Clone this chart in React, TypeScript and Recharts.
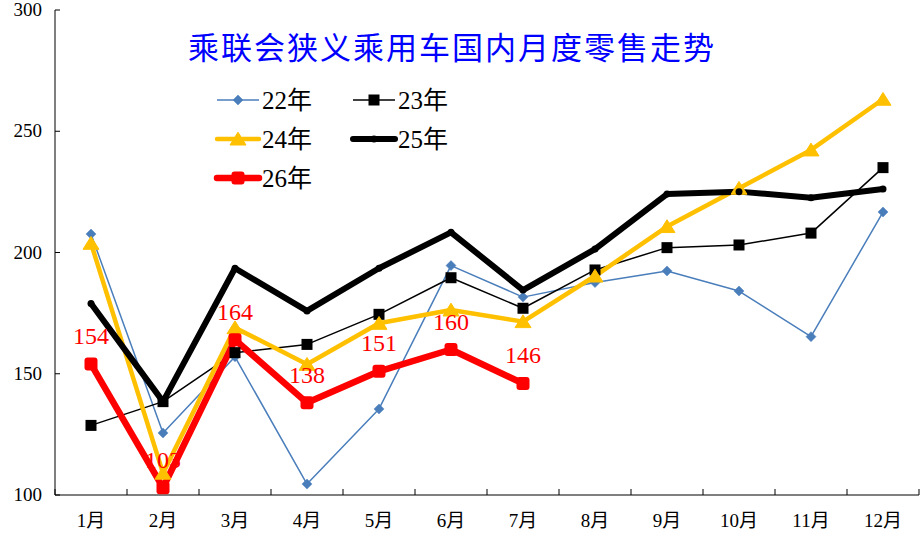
import React from 'react';
import { LineChart, Line, XAxis, YAxis, Legend, LabelList } from 'recharts';

const months = ['1月', '2月', '3月', '4月', '5月', '6月', '7月', '8月', '9月', '10月', '11月', '12月'];
const y22 = [207.6, 125.6, 157, 104.5, 135.5, 194.6, 181.6, 187.6, 192.4, 184.1, 165.3, 216.7];
const y23 = [128.7, 138.5, 158.7, 162.1, 174.5, 189.6, 177, 192.8, 202, 203.1, 208, 235];
const y24 = [203.8, 109, 169, 153.9, 170.8, 176.3, 171.5, 190.3, 210.7, 226.5, 242.3, 263.2];
const y25 = [179, 138.5, 193.5, 175.9, 193.5, 208.3, 184.5, 201.4, 224.1, 225.1, 222.6, 226.2];
const y26 = [154, 103, 164, 138, 151, 160, 146, null, null, null, null, null];
const yTicks = [100, 150, 200, 250, 300];

const TITLE = '乘联会狭义乘用车国内月度零售走势';

const data = months.map((m, i) => ({
  month: m,
  y22: y22[i],
  y23: y23[i],
  y24: y24[i],
  y25: y25[i],
  y26: y26[i],
}));

const BLUE = '#4A7EBB';
const GOLD = '#FFC000';
const RED = '#FF0000';

const W = 922;
const H = 537;
const M = { top: 10, right: 3, bottom: 0, left: 0 };
const Y_W = 55;
const X_H = 42;
const BAND = (W - M.left - M.right - Y_W) / months.length;

const SERIF = '"Liberation Serif", "Noto Sans CJK SC", serif';

type Shape = 'diamond' | 'square' | 'triangle' | 'circle' | 'rsquare';

const Marker = ({ cx, cy, shape, color, size }: { cx: number; cy: number; shape: Shape; color: string; size: number }) => {
  if (cx == null || cy == null || Number.isNaN(cx) || Number.isNaN(cy)) return null;
  const h = size / 2;
  switch (shape) {
    case 'diamond':
      return <path d={`M${cx},${cy - h} L${cx + h},${cy} L${cx},${cy + h} L${cx - h},${cy} Z`} fill={color} stroke={color} strokeWidth={0.5} />;
    case 'square':
      return <rect x={cx - h} y={cy - h} width={size} height={size} fill={color} />;
    case 'triangle':
      return <path d={`M${cx},${cy - h * 0.85} L${cx + h},${cy + h * 0.75} L${cx - h},${cy + h * 0.75} Z`} fill={color} stroke={color} strokeWidth={1} strokeLinejoin="round" />;
    case 'circle':
      return <circle cx={cx} cy={cy} r={h} fill={color} />;
    case 'rsquare':
      return <rect x={cx - h} y={cy - h} width={size} height={size} rx={3} ry={3} fill={color} />;
  }
  return null;
};

const SERIES = [
  { key: 'y22', name: '22年', color: BLUE, width: 1.5, shape: 'diamond' as Shape, size: 10 },
  { key: 'y23', name: '23年', color: '#000000', width: 1.5, shape: 'square' as Shape, size: 11 },
  { key: 'y24', name: '24年', color: GOLD, width: 4.5, shape: 'triangle' as Shape, size: 16 },
  { key: 'y25', name: '25年', color: '#000000', width: 6, shape: 'circle' as Shape, size: 7 },
  { key: 'y26', name: '26年', color: RED, width: 6.5, shape: 'rsquare' as Shape, size: 13 },
];

const XTick = (props: any) => {
  const { x, y, payload, index } = props;
  const last = index === months.length - 1;
  return (
    <g>
      <line x1={x - BAND / 2} y1={y} x2={x - BAND / 2} y2={y - 6} stroke="#000" strokeWidth={1} />
      {last && <line x1={x + BAND / 2} y1={y} x2={x + BAND / 2} y2={y - 6} stroke="#000" strokeWidth={1} />}
      <text x={x} y={y + 32} textAnchor="middle" fontFamily={SERIF} fontSize={19} fill="#000">
        {payload.value}
      </text>
    </g>
  );
};

const YTick = (props: any) => {
  const { x, y, payload } = props;
  return (
    <g>
      <line x1={x} y1={y} x2={x + 5} y2={y} stroke="#000" strokeWidth={1} />
      <text x={x - 13} y={y + 6} textAnchor="end" fontFamily={SERIF} fontSize={19} fill="#000">
        {payload.value}
      </text>
    </g>
  );
};

const LegendBox = () => {
  const rows = [[SERIES[0], SERIES[1]], [SERIES[2], SERIES[3]], [SERIES[4]]];
  return (
    <svg width={260} height={120} style={{ display: 'block', overflow: 'visible' }}>
      {rows.map((row, r) =>
        row.map((s, c) => {
          const x0 = c * 136;
          const yc = 18 + r * 39;
          return (
            <g key={s.key}>
              <line x1={x0} y1={yc} x2={x0 + 42} y2={yc} stroke={s.color} strokeWidth={s.width} strokeLinecap={s.width > 3 ? 'round' : 'butt'} />
              <Marker cx={x0 + 21} cy={yc} shape={s.shape} color={s.color} size={s.size} />
              <text x={x0 + 45} y={yc + 9} fontFamily={SERIF} fontSize={25} fill="#000">
                {s.name}
              </text>
            </g>
          );
        })
      )}
    </svg>
  );
};

const RedLabel = (props: any) => {
  const { x, y, value } = props;
  if (value == null) return null;
  return (
    <text x={x} y={y - 20} textAnchor="middle" fontFamily={SERIF} fontSize={24} fill={RED}>
      {value}
    </text>
  );
};

export default function App() {
  return (
    <div style={{ position: 'absolute', left: 0, top: 0, width: W, height: H, background: '#fff' }}>
      <LineChart width={W} height={H} data={data} margin={M}>
        <XAxis
          dataKey="month"
          height={X_H}
          padding={{ left: BAND / 2, right: BAND / 2 }}
          axisLine={{ stroke: '#000', strokeWidth: 1 }}
          tickLine={false}
          tickSize={0}
          tickMargin={0}
          tick={<XTick />}
          interval={0}
        />
        <YAxis
          width={Y_W}
          domain={[100, 300]}
          ticks={yTicks}
          allowDataOverflow
          axisLine={{ stroke: '#000', strokeWidth: 1 }}
          tickLine={false}
          tickSize={0}
          tickMargin={0}
          tick={<YTick />}
          interval={0}
        />
        <Legend
          layout="vertical"
          align="center"
          verticalAlign="middle"
          wrapperStyle={{ left: 217, top: 82, width: 270 }}
          content={() => <LegendBox />}
        />
        {SERIES.map((s) => (
          <Line
            key={s.key}
            dataKey={s.key}
            name={s.name}
            stroke={s.color}
            strokeWidth={s.width}
            strokeLinejoin="round"
            isAnimationActive={false}
            connectNulls={false}
            dot={(p: any) => <Marker key={`${s.key}-${p.index}`} cx={p.cx} cy={p.cy} shape={s.shape} color={s.color} size={s.size} />}
            activeDot={false}
          >
            {s.key === 'y26' && <LabelList dataKey="y26" content={<RedLabel />} />}
          </Line>
        ))}
      </LineChart>
      <div
        style={{
          position: 'absolute',
          left: 0,
          width: 900,
          top: 26,
          textAlign: 'center',
          fontFamily: '"Noto Sans CJK SC", sans-serif',
          fontSize: 31,
          lineHeight: '40px',
          color: '#0000FF',
          letterSpacing: 2,
          paddingLeft: 2,
        }}
      >
        {TITLE}
      </div>
    </div>
  );
}
